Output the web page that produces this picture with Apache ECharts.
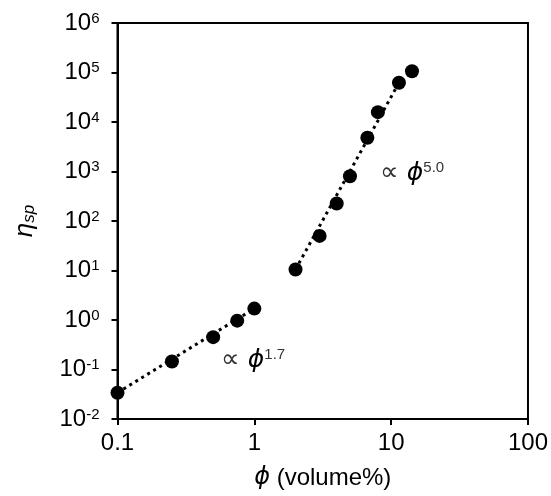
<!DOCTYPE html>
<html>
<head>
<meta charset="utf-8">
<script src="https://cdn.jsdelivr.net/npm/echarts@6/dist/echarts.min.js"></script>
<style>html,body{margin:0;padding:0;background:#fff;}#c{width:551px;height:496px;}</style>
</head>
<body>
<div id="c"></div>
<script>
// volume fraction phi (volume%) and specific viscosity
var phiValues = [0.1, 0.25, 0.5, 0.75, 1.0, 2.0, 3.0, 4.0, 5.0, 6.7, 8.0, 11.4, 14.2];
var etaValues = [0.034, 0.145, 0.45, 0.97, 1.7, 10.5, 50, 225, 800, 4800, 15800, 62000, 106000];
// dotted power-law guide lines (end points)
var fitLow = [[0.1, 0.034], [1.0, 1.7]];
var fitHigh = [[2.0, 10.5], [11.4, 62000]];
var xTickLabels = ['0.1', '1', '10', '100'];
var yExponents = ['-2', '-1', '0', '1', '2', '3', '4', '5', '6'];
var annotations = ['1.7', '5.0'];

var FONT = 'Liberation Sans, Arial, sans-serif';
var chart = echarts.init(document.getElementById('c'), null, {renderer: 'canvas'});

var points = phiValues.map(function (x, i) { return [x, etaValues[i]]; });

function xLabel(v) {
  var e = Math.round(Math.log10(v));
  return xTickLabels[e + 1];
}
function yLabel(v) {
  var e = Math.round(Math.log10(v));
  return '{b|10}{s|' + yExponents[e + 2] + '}';
}

var lineStyle = {color: '#000', width: 3, type: [3, 4]};

function annot(txt) {
  return {
    text: '{a|∝ }{p|ϕ}{s|' + txt + '}',
    rich: {
      a: {fontSize: 26, fontFamily: 'DejaVu Sans, ' + FONT, fill: '#333'},
      p: {fontSize: 25, fontFamily: 'DejaVu Sans, ' + FONT, fontStyle: 'italic', fill: '#000'},
      s: {fontSize: 15, fontFamily: FONT, fill: '#333', verticalAlign: 'top'}
    }
  };
}

chart.setOption({
  animation: false,
  backgroundColor: '#fff',
  grid: {left: 117.5, right: 21, top: 23, bottom: 77, show: true, borderColor: '#000', borderWidth: 2, backgroundColor: 'transparent'},
  xAxis: {
    type: 'log', logBase: 10, min: 0.1, max: 100, interval: 1,
    axisLine: {show: true, onZero: false, lineStyle: {color: '#000', width: 2}},
    axisTick: {show: true, inside: false, length: 6, lineStyle: {color: '#000', width: 2}},
    minorTick: {show: false},
    splitLine: {show: false},
    axisLabel: {formatter: xLabel, color: '#000', fontSize: 24, fontFamily: FONT, margin: 12},
    name: '{p|ϕ}{t| (volume%)}',
    nameLocation: 'middle', nameGap: 47,
    nameTextStyle: {
      rich: {
        p: {fontSize: 24, fontFamily: 'DejaVu Sans, ' + FONT, fontStyle: 'italic', color: '#000'},
        t: {fontSize: 24, fontFamily: FONT, color: '#000'}
      }
    }
  },
  yAxis: {
    type: 'log', logBase: 10, min: 0.01, max: 1e6, interval: 1,
    axisLine: {show: true, onZero: false, lineStyle: {color: '#000', width: 2}},
    axisTick: {show: true, inside: false, length: 6, lineStyle: {color: '#000', width: 2}},
    splitLine: {show: false},
    axisLabel: {
      formatter: yLabel, margin: 18,
      rich: {
        b: {fontSize: 24, fontFamily: FONT, color: '#000'},
        s: {fontSize: 15, fontFamily: FONT, color: '#000', verticalAlign: 'top'}
      }
    },
    name: '{e|η}{s|sp}',
    nameLocation: 'middle', nameGap: 80, nameRotate: 90,
    nameTextStyle: {
      rich: {
        e: {fontSize: 26, fontFamily: FONT, fontStyle: 'italic', color: '#000'},
        s: {fontSize: 17, fontFamily: FONT, fontStyle: 'italic', color: '#000', verticalAlign: 'bottom'}
      }
    }
  },
  series: [
    {type: 'line', data: fitLow, symbol: 'none', lineStyle: lineStyle, z: 2, silent: true},
    {type: 'line', data: fitHigh, symbol: 'none', lineStyle: lineStyle, z: 2, silent: true},
    {type: 'scatter', data: points, symbol: 'circle', symbolSize: 14, itemStyle: {color: '#000', opacity: 1}, z: 3}
  ],
  graphic: [
    {type: 'text', left: 221, top: 347, z: 10, style: annot(annotations[0])},
    {type: 'text', left: 380, top: 160, z: 10, style: annot(annotations[1])}
  ]
});
</script>
</body>
</html>
